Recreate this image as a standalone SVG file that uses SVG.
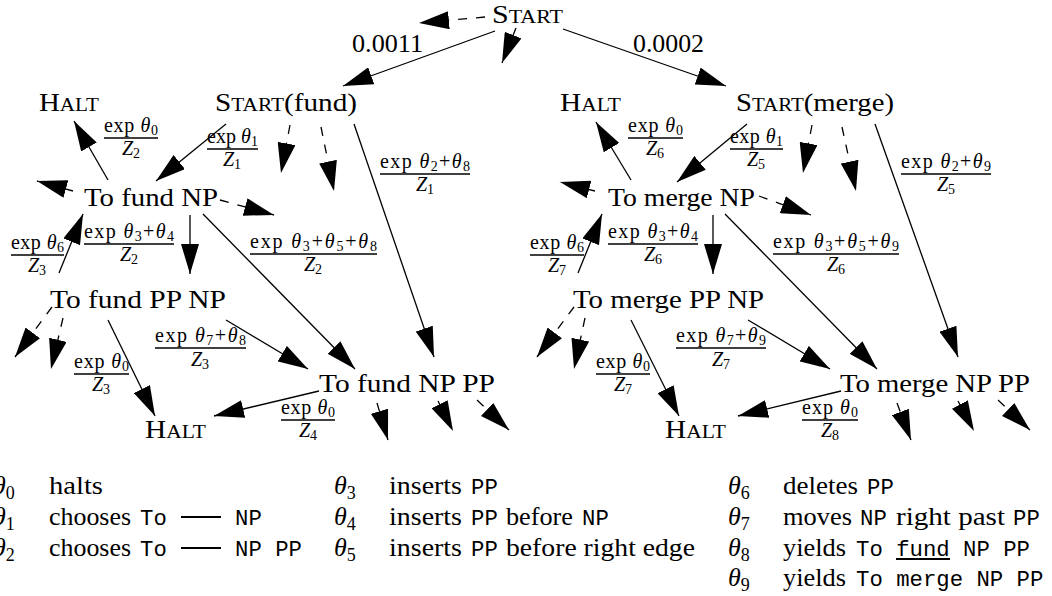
<svg xmlns="http://www.w3.org/2000/svg" width="1052" height="596" viewBox="0 0 1052 596">
  <defs>
    <marker id="ah" viewBox="0 0 30 18" markerWidth="30" markerHeight="18" refX="30" refY="9" orient="auto" markerUnits="userSpaceOnUse">
      <path d="M0,0 L30,9 L0,18 Z" fill="#000"/>
    </marker>
    <style>
      text { font-family: "Liberation Serif", "Times New Roman", serif; fill: #000; }
      .nd { font-size: 26px; }
      .sc { font-size: 19px; }
      .fr { font-size: 20px; }
      .sb { font-size: 14px; }
      .lg { font-size: 26px; }
      .ls { font-size: 18px; }
      .tt { font-family: "Liberation Mono", "Courier New", monospace; font-size: 22.3px; }
      .it { font-style: italic; }
      .e { fill: none; stroke: #000; stroke-width: 1.3; marker-end: url(#ah); }
      .d { stroke-dasharray: 9 9; }
      .bar { stroke: #000; stroke-width: 1.4; }
      .rule { stroke: #000; stroke-width: 2; }
    </style>
  </defs>
  <rect width="1052" height="596" fill="#fff"/>

  <!-- connectors -->
  <g id="edges">
    <!-- solid transitions -->
    <line class="e" x1="495" y1="31" x2="343" y2="86"/>
    <line class="e" x1="563" y1="29" x2="726" y2="86"/>
    <line class="e" x1="108" y1="180" x2="74" y2="121"/>
    <line class="e" x1="226" y1="124" x2="156" y2="181"/>
    <line class="e" x1="354" y1="124" x2="434" y2="357"/>
    <line class="e" x1="190" y1="215" x2="190" y2="274"/>
    <line class="e" x1="203" y1="214" x2="355" y2="369"/>
    <line class="e" x1="59" y1="273" x2="83" y2="214"/>
    <line class="e" x1="108" y1="320" x2="155" y2="416"/>
    <line class="e" x1="226" y1="320" x2="308" y2="369"/>
    <line class="e" x1="319" y1="391" x2="214" y2="416"/>
    <line class="e" x1="631" y1="180" x2="596" y2="122"/>
    <line class="e" x1="747" y1="124" x2="677" y2="182"/>
    <line class="e" x1="875" y1="124" x2="958" y2="357"/>
    <line class="e" x1="713" y1="215" x2="713" y2="274"/>
    <line class="e" x1="725" y1="214" x2="877" y2="369"/>
    <line class="e" x1="578" y1="273" x2="602" y2="214"/>
    <line class="e" x1="631" y1="320" x2="679" y2="416"/>
    <line class="e" x1="748" y1="320" x2="830" y2="369"/>
    <line class="e" x1="841" y1="391" x2="738" y2="416"/>
    <!-- dashed stubs to states not drawn -->
    <line class="e d" x1="485" y1="17" x2="419" y2="23"/>
    <line class="e d" x1="516" y1="28" x2="502" y2="63"/>
    <line class="e d" x1="290" y1="125" x2="281" y2="173"/>
    <line class="e d" x1="321" y1="127" x2="334" y2="191"/>
    <line class="e d" x1="73" y1="191" x2="37" y2="181"/>
    <line class="e d" x1="220" y1="200" x2="274" y2="215"/>
    <line class="e d" x1="52" y1="307" x2="15" y2="357"/>
    <line class="e d" x1="63" y1="318" x2="51" y2="369"/>
    <line class="e d" x1="377" y1="403" x2="388" y2="440"/>
    <line class="e d" x1="438" y1="401" x2="453" y2="431"/>
    <line class="e d" x1="477" y1="400" x2="509" y2="430"/>
    <line class="e d" x1="812" y1="125" x2="803" y2="173"/>
    <line class="e d" x1="842" y1="127" x2="856" y2="191"/>
    <line class="e d" x1="595" y1="191" x2="560" y2="182"/>
    <line class="e d" x1="759" y1="196" x2="811" y2="215"/>
    <line class="e d" x1="574" y1="307" x2="537" y2="357"/>
    <line class="e d" x1="585" y1="318" x2="574" y2="369"/>
    <line class="e d" x1="897" y1="403" x2="911" y2="440"/>
    <line class="e d" x1="958" y1="401" x2="974" y2="431"/>
    <line class="e d" x1="998" y1="400" x2="1030" y2="430"/>
  </g>

  <!-- edge weights -->
  <g id="edge-labels">
    <text class="nd" x="352" y="52" textLength="71" lengthAdjust="spacingAndGlyphs">0.0011</text>
    <text class="nd" x="633" y="52" textLength="71" lengthAdjust="spacingAndGlyphs">0.0002</text>

    <!-- fund branch -->
    <text class="fr" x="104" y="132" textLength="54" lengthAdjust="spacing">exp <tspan class="it">θ</tspan><tspan class="sb" dy="3">0</tspan></text>
    <line class="bar" x1="104" y1="138" x2="158" y2="138"/>
    <text class="fr" x="131" y="155" text-anchor="middle"><tspan class="it">Z</tspan><tspan class="sb" dy="3">2</tspan></text>

    <text class="fr" x="207" y="143" textLength="51" lengthAdjust="spacing">exp <tspan class="it">θ</tspan><tspan class="sb" dy="3">1</tspan></text>
    <line class="bar" x1="207" y1="149" x2="258" y2="149"/>
    <text class="fr" x="232" y="166" text-anchor="middle"><tspan class="it">Z</tspan><tspan class="sb" dy="3">1</tspan></text>

    <text class="fr" x="380" y="168" textLength="90" lengthAdjust="spacing">exp <tspan class="it">θ</tspan><tspan class="sb" dy="3">2</tspan><tspan dy="-3">+</tspan><tspan class="it">θ</tspan><tspan class="sb" dy="3">8</tspan></text>
    <line class="bar" x1="380" y1="174" x2="470" y2="174"/>
    <text class="fr" x="425" y="191" text-anchor="middle"><tspan class="it">Z</tspan><tspan class="sb" dy="3">1</tspan></text>

    <text class="fr" x="84" y="238" textLength="90" lengthAdjust="spacing">exp <tspan class="it">θ</tspan><tspan class="sb" dy="3">3</tspan><tspan dy="-3">+</tspan><tspan class="it">θ</tspan><tspan class="sb" dy="3">4</tspan></text>
    <line class="bar" x1="84" y1="244" x2="174" y2="244"/>
    <text class="fr" x="129" y="261" text-anchor="middle"><tspan class="it">Z</tspan><tspan class="sb" dy="3">2</tspan></text>

    <text class="fr" x="250" y="248" textLength="127" lengthAdjust="spacing">exp <tspan class="it">θ</tspan><tspan class="sb" dy="3">3</tspan><tspan dy="-3">+</tspan><tspan class="it">θ</tspan><tspan class="sb" dy="3">5</tspan><tspan dy="-3">+</tspan><tspan class="it">θ</tspan><tspan class="sb" dy="3">8</tspan></text>
    <line class="bar" x1="250" y1="254" x2="377" y2="254"/>
    <text class="fr" x="313" y="271" text-anchor="middle"><tspan class="it">Z</tspan><tspan class="sb" dy="3">2</tspan></text>

    <text class="fr" x="11" y="249" textLength="53" lengthAdjust="spacing">exp <tspan class="it">θ</tspan><tspan class="sb" dy="3">6</tspan></text>
    <line class="bar" x1="11" y1="255" x2="64" y2="255"/>
    <text class="fr" x="37" y="272" text-anchor="middle"><tspan class="it">Z</tspan><tspan class="sb" dy="3">3</tspan></text>

    <text class="fr" x="74" y="368" textLength="55" lengthAdjust="spacing">exp <tspan class="it">θ</tspan><tspan class="sb" dy="3">0</tspan></text>
    <line class="bar" x1="74" y1="374" x2="129" y2="374"/>
    <text class="fr" x="101" y="391" text-anchor="middle"><tspan class="it">Z</tspan><tspan class="sb" dy="3">3</tspan></text>

    <text class="fr" x="155" y="342" textLength="91" lengthAdjust="spacing">exp <tspan class="it">θ</tspan><tspan class="sb" dy="3">7</tspan><tspan dy="-3">+</tspan><tspan class="it">θ</tspan><tspan class="sb" dy="3">8</tspan></text>
    <line class="bar" x1="155" y1="348" x2="246" y2="348"/>
    <text class="fr" x="200" y="366" text-anchor="middle"><tspan class="it">Z</tspan><tspan class="sb" dy="3">3</tspan></text>

    <text class="fr" x="281" y="414" textLength="54" lengthAdjust="spacing">exp <tspan class="it">θ</tspan><tspan class="sb" dy="3">0</tspan></text>
    <line class="bar" x1="281" y1="420" x2="335" y2="420"/>
    <text class="fr" x="308" y="437" text-anchor="middle"><tspan class="it">Z</tspan><tspan class="sb" dy="3">4</tspan></text>

    <!-- merge branch -->
    <text class="fr" x="628" y="132" textLength="55" lengthAdjust="spacing">exp <tspan class="it">θ</tspan><tspan class="sb" dy="3">0</tspan></text>
    <line class="bar" x1="628" y1="138" x2="683" y2="138"/>
    <text class="fr" x="655" y="155" text-anchor="middle"><tspan class="it">Z</tspan><tspan class="sb" dy="3">6</tspan></text>

    <text class="fr" x="730" y="143" textLength="53" lengthAdjust="spacing">exp <tspan class="it">θ</tspan><tspan class="sb" dy="3">1</tspan></text>
    <line class="bar" x1="730" y1="149" x2="783" y2="149"/>
    <text class="fr" x="756" y="166" text-anchor="middle"><tspan class="it">Z</tspan><tspan class="sb" dy="3">5</tspan></text>

    <text class="fr" x="901" y="168" textLength="90" lengthAdjust="spacing">exp <tspan class="it">θ</tspan><tspan class="sb" dy="3">2</tspan><tspan dy="-3">+</tspan><tspan class="it">θ</tspan><tspan class="sb" dy="3">9</tspan></text>
    <line class="bar" x1="901" y1="174" x2="991" y2="174"/>
    <text class="fr" x="946" y="191" text-anchor="middle"><tspan class="it">Z</tspan><tspan class="sb" dy="3">5</tspan></text>

    <text class="fr" x="608" y="238" textLength="90" lengthAdjust="spacing">exp <tspan class="it">θ</tspan><tspan class="sb" dy="3">3</tspan><tspan dy="-3">+</tspan><tspan class="it">θ</tspan><tspan class="sb" dy="3">4</tspan></text>
    <line class="bar" x1="608" y1="244" x2="698" y2="244"/>
    <text class="fr" x="653" y="261" text-anchor="middle"><tspan class="it">Z</tspan><tspan class="sb" dy="3">6</tspan></text>

    <text class="fr" x="773" y="248" textLength="126" lengthAdjust="spacing">exp <tspan class="it">θ</tspan><tspan class="sb" dy="3">3</tspan><tspan dy="-3">+</tspan><tspan class="it">θ</tspan><tspan class="sb" dy="3">5</tspan><tspan dy="-3">+</tspan><tspan class="it">θ</tspan><tspan class="sb" dy="3">9</tspan></text>
    <line class="bar" x1="773" y1="254" x2="899" y2="254"/>
    <text class="fr" x="836" y="271" text-anchor="middle"><tspan class="it">Z</tspan><tspan class="sb" dy="3">6</tspan></text>

    <text class="fr" x="530" y="249" textLength="54" lengthAdjust="spacing">exp <tspan class="it">θ</tspan><tspan class="sb" dy="3">6</tspan></text>
    <line class="bar" x1="530" y1="255" x2="584" y2="255"/>
    <text class="fr" x="557" y="272" text-anchor="middle"><tspan class="it">Z</tspan><tspan class="sb" dy="3">7</tspan></text>

    <text class="fr" x="596" y="368" textLength="54" lengthAdjust="spacing">exp <tspan class="it">θ</tspan><tspan class="sb" dy="3">0</tspan></text>
    <line class="bar" x1="596" y1="374" x2="650" y2="374"/>
    <text class="fr" x="623" y="391" text-anchor="middle"><tspan class="it">Z</tspan><tspan class="sb" dy="3">7</tspan></text>

    <text class="fr" x="676" y="342" textLength="90" lengthAdjust="spacing">exp <tspan class="it">θ</tspan><tspan class="sb" dy="3">7</tspan><tspan dy="-3">+</tspan><tspan class="it">θ</tspan><tspan class="sb" dy="3">9</tspan></text>
    <line class="bar" x1="676" y1="348" x2="766" y2="348"/>
    <text class="fr" x="721" y="366" text-anchor="middle"><tspan class="it">Z</tspan><tspan class="sb" dy="3">7</tspan></text>

    <text class="fr" x="802" y="414" textLength="56" lengthAdjust="spacing">exp <tspan class="it">θ</tspan><tspan class="sb" dy="3">0</tspan></text>
    <line class="bar" x1="802" y1="420" x2="858" y2="420"/>
    <text class="fr" x="830" y="437" text-anchor="middle"><tspan class="it">Z</tspan><tspan class="sb" dy="3">8</tspan></text>
  </g>

  <!-- states -->
  <g id="node-start"><text class="nd" x="492" y="23" textLength="71" lengthAdjust="spacingAndGlyphs">S<tspan class="sc">TART</tspan></text></g>
  <g id="node-start-fund"><text class="nd" x="215" y="111" textLength="142" lengthAdjust="spacingAndGlyphs">S<tspan class="sc">TART</tspan>(fund)</text></g>
  <g id="node-halt-fund-1"><text class="nd" x="39" y="111" textLength="60" lengthAdjust="spacingAndGlyphs">H<tspan class="sc">ALT</tspan></text></g>
  <g id="node-to-fund-np"><text class="nd" x="84" y="206" textLength="134" lengthAdjust="spacingAndGlyphs">To fund NP</text></g>
  <g id="node-to-fund-pp-np"><text class="nd" x="50" y="308" textLength="176" lengthAdjust="spacingAndGlyphs">To fund PP NP</text></g>
  <g id="node-to-fund-np-pp"><text class="nd" x="319" y="392" textLength="176" lengthAdjust="spacingAndGlyphs">To fund NP PP</text></g>
  <g id="node-halt-fund-2"><text class="nd" x="145" y="438" textLength="61" lengthAdjust="spacingAndGlyphs">H<tspan class="sc">ALT</tspan></text></g>

  <g id="node-start-merge"><text class="nd" x="736" y="111" textLength="158" lengthAdjust="spacingAndGlyphs">S<tspan class="sc">TART</tspan>(merge)</text></g>
  <g id="node-halt-merge-1"><text class="nd" x="560" y="111" textLength="61" lengthAdjust="spacingAndGlyphs">H<tspan class="sc">ALT</tspan></text></g>
  <g id="node-to-merge-np"><text class="nd" x="608" y="206" textLength="147" lengthAdjust="spacingAndGlyphs">To merge NP</text></g>
  <g id="node-to-merge-pp-np"><text class="nd" x="573" y="308" textLength="191" lengthAdjust="spacingAndGlyphs">To merge PP NP</text></g>
  <g id="node-to-merge-np-pp"><text class="nd" x="840" y="392" textLength="190" lengthAdjust="spacingAndGlyphs">To merge NP PP</text></g>
  <g id="node-halt-merge-2"><text class="nd" x="665" y="438" textLength="61" lengthAdjust="spacingAndGlyphs">H<tspan class="sc">ALT</tspan></text></g>

  <!-- feature legend -->
  <g id="legend">
    <!-- column 1 -->
    <text class="lg it" x="-7" y="494">θ<tspan class="ls" dy="5" style="font-style:normal">0</tspan></text>
    <text class="lg" x="49" y="494" textLength="54" lengthAdjust="spacingAndGlyphs">halts</text>

    <text class="lg it" x="-7" y="525">θ<tspan class="ls" dy="5" style="font-style:normal">1</tspan></text>
    <text class="lg" x="49" y="525" textLength="82" lengthAdjust="spacingAndGlyphs">chooses</text>
    <text class="tt" x="140" y="525">To</text>
    <line class="rule" x1="181" y1="517" x2="221" y2="517"/>
    <text class="tt" x="235" y="525">NP</text>

    <text class="lg it" x="-7" y="556">θ<tspan class="ls" dy="5" style="font-style:normal">2</tspan></text>
    <text class="lg" x="49" y="556" textLength="82" lengthAdjust="spacingAndGlyphs">chooses</text>
    <text class="tt" x="140" y="556">To</text>
    <line class="rule" x1="181" y1="548" x2="221" y2="548"/>
    <text class="tt" x="235" y="556">NP PP</text>

    <!-- column 2 -->
    <text class="lg it" x="334" y="494">θ<tspan class="ls" dy="5" style="font-style:normal">3</tspan></text>
    <text class="lg" x="389" y="494" textLength="73" lengthAdjust="spacingAndGlyphs">inserts</text>
    <text class="tt" x="471" y="494">PP</text>

    <text class="lg it" x="334" y="525">θ<tspan class="ls" dy="5" style="font-style:normal">4</tspan></text>
    <text class="lg" x="389" y="525" textLength="73" lengthAdjust="spacingAndGlyphs">inserts</text>
    <text class="tt" x="471" y="525">PP</text>
    <text class="lg" x="506" y="525" textLength="67" lengthAdjust="spacingAndGlyphs">before</text>
    <text class="tt" x="582" y="525">NP</text>

    <text class="lg it" x="334" y="556">θ<tspan class="ls" dy="5" style="font-style:normal">5</tspan></text>
    <text class="lg" x="389" y="556" textLength="73" lengthAdjust="spacingAndGlyphs">inserts</text>
    <text class="tt" x="471" y="556">PP</text>
    <text class="lg" x="506" y="556" textLength="189" lengthAdjust="spacingAndGlyphs">before right edge</text>

    <!-- column 3 -->
    <text class="lg it" x="728" y="494">θ<tspan class="ls" dy="5" style="font-style:normal">6</tspan></text>
    <text class="lg" x="783" y="494" textLength="75" lengthAdjust="spacingAndGlyphs">deletes</text>
    <text class="tt" x="867" y="494">PP</text>

    <text class="lg it" x="728" y="525">θ<tspan class="ls" dy="5" style="font-style:normal">7</tspan></text>
    <text class="lg" x="783" y="525" textLength="69" lengthAdjust="spacingAndGlyphs">moves</text>
    <text class="tt" x="860" y="525">NP</text>
    <text class="lg" x="896" y="525" textLength="109" lengthAdjust="spacingAndGlyphs">right past</text>
    <text class="tt" x="1013" y="525">PP</text>

    <text class="lg it" x="728" y="556">θ<tspan class="ls" dy="5" style="font-style:normal">8</tspan></text>
    <text class="lg" x="783" y="556" textLength="63" lengthAdjust="spacingAndGlyphs">yields</text>
    <text class="tt" x="856" y="556">To fund NP PP</text>
    <line class="rule" x1="896" y1="559" x2="950" y2="559"/>

    <text class="lg it" x="728" y="586">θ<tspan class="ls" dy="5" style="font-style:normal">9</tspan></text>
    <text class="lg" x="783" y="586" textLength="63" lengthAdjust="spacingAndGlyphs">yields</text>
    <text class="tt" x="856" y="586">To merge NP PP</text>
  </g>
</svg>
